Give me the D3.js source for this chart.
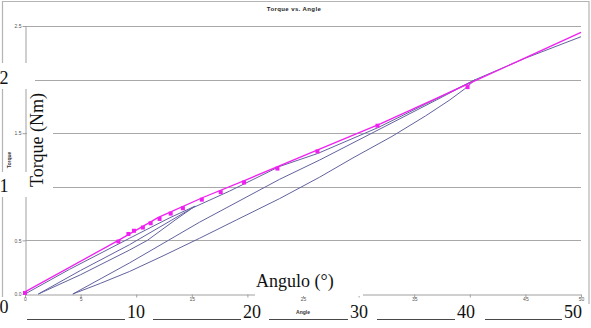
<!DOCTYPE html>
<html>
<head>
<meta charset="utf-8">
<script src="https://cdn.jsdelivr.net/npm/d3@7"></script>
<style>
  body { margin: 0; background: #fff; }
  svg { display: block; }
</style>
</head>
<body>
<div id="chart"></div>
<script>
// DATA
const xTicks = [0, 5, 10, 15, 20, 25, 30, 35, 40, 45, 50];
const hiddenXTicks = [10, 20, 30, 40]; // covered by the big labels
const yTicks = [0, 0.5, 1, 1.5, 2, 2.5];
const bigXLabels = ["10", "20", "30", "40", "50"];
const bigYLabels = ["0", "1", "2"];

// measured points (magenta markers)
const markerAngle = [0, 8.4, 9.3, 9.8, 10.6, 11.3, 12.1, 13.1, 14.2, 15.9, 17.6, 19.7, 22.7, 26.3, 31.7, 39.8];
const markerTorque = [0.01, 0.49, 0.56, 0.59, 0.62, 0.66, 0.70, 0.75, 0.80, 0.88, 0.95, 1.04, 1.17, 1.33, 1.57, 1.93];

// magenta curve
const fitAngle = [0, 8.4, 12, 16, 20, 26, 32, 40.5, 50];
const fitTorque = [0.02, 0.50, 0.715, 0.90, 1.07, 1.33, 1.59, 1.99, 2.44];

// loading / unloading cycles (blue)
const load1Angle = [0, 4, 9.4, 13, 15.3];
const load1Torque = [0, 0.23, 0.52, 0.71, 0.82];
const unload1Angle = [15.3, 13.5, 11, 9.4, 5, 1.2];
const unload1Torque = [0.82, 0.69, 0.50, 0.41, 0.18, 0];
const load2Angle = [1.2, 5, 9.4, 13.2, 15, 18.4, 22.9, 26.3, 31.7, 36, 40.5];
const load2Torque = [0, 0.22, 0.46, 0.69, 0.80, 0.96, 1.19, 1.31, 1.55, 1.77, 2.0];
const unload2Angle = [40.5, 39.5, 38.2, 36, 33, 29.5, 26.5, 22.9, 19, 15.7, 12.5, 9.4, 6.8, 4.3];
const unload2Torque = [2.0, 1.91, 1.81, 1.66, 1.47, 1.27, 1.09, 0.89, 0.69, 0.52, 0.36, 0.21, 0.10, 0];
const load3Angle = [4.3, 9.4, 15.7, 22.9, 26.5, 37, 40.5, 45, 50];
const load3Torque = [0, 0.29, 0.67, 1.07, 1.25, 1.81, 2.0, 2.2, 2.40];

const width = 591;
const height = 328;
const blue = "#62629f";
const magenta = "#f020f0";

const svg = d3.select("#chart")
  .append("svg")
  .attr("width", width)
  .attr("height", height);

const xScale = d3.scaleLinear().domain([0, 50]).range([25, 581]);
const yScale = d3.scaleLinear().domain([0, 2.5]).range([294, 26]);

// outer frame
svg.append("path")
  .attr("d", "M2.5,328 V1.5 H589 V328")
  .attr("fill", "none")
  .attr("stroke", "#b4b4b4")
  .attr("stroke-width", 1.2);

// GRIDLINES
svg.append("g")
  .selectAll("line")
  .data(yTicks.filter(d => d > 0))
  .enter()
  .append("line")
  .attr("x1", xScale(0))
  .attr("x2", xScale(50))
  .attr("y1", d => Math.round(yScale(d)) + 0.5)
  .attr("y2", d => Math.round(yScale(d)) + 0.5)
  .attr("stroke", "#a8a8a8")
  .attr("stroke-width", 1);

// AXES
const xAxis = svg.append("g")
  .attr("transform", "translate(0," + (Math.round(yScale(0)) + 0.5) + ")")
  .call(d3.axisBottom(xScale)
    .tickValues(xTicks)
    .tickFormat(d => hiddenXTicks.includes(d) ? "" : d)
    .tickSize(3).tickSizeOuter(0).tickPadding(0));

const yAxis = svg.append("g")
  .attr("transform", "translate(" + (xScale(0) + 0.5) + ",0)")
  .call(d3.axisLeft(yScale).tickValues(yTicks).tickSize(3).tickSizeOuter(0).tickPadding(1));

[xAxis, yAxis].forEach(ax => {
  ax.selectAll("path, line").attr("stroke", "#a0a0a0");
  ax.selectAll("text")
    .attr("fill", "#555")
    .style("font-family", "Liberation Sans, Arial, sans-serif")
    .style("font-size", "5px");
});

// SMALL TITLES
svg.append("text")
  .attr("x", 294).attr("y", 11)
  .attr("text-anchor", "middle")
  .style("font-family", "Liberation Sans, Arial, sans-serif")
  .style("font-size", "6px")
  .style("font-weight", "bold")
  .style("letter-spacing", "0.4px")
  .attr("fill", "#222")
  .text("Torque vs. Angle");

svg.append("text")
  .attr("x", 303).attr("y", 314)
  .attr("text-anchor", "middle")
  .style("font-family", "Liberation Sans, Arial, sans-serif")
  .style("font-size", "5px")
  .style("font-weight", "bold")
  .attr("fill", "#333")
  .text("Angle");

svg.append("text")
  .attr("transform", "translate(11,160) rotate(-90)")
  .attr("text-anchor", "middle")
  .style("font-family", "Liberation Sans, Arial, sans-serif")
  .style("font-size", "5px")
  .style("font-weight", "bold")
  .attr("fill", "#333")
  .text("Torque");

// SERIES
const toPoints = (xs, ys) => xs.map((a, i) => ({ angle: a, torque: ys[i] }));

const line = d3.line()
  .x(d => xScale(d.angle))
  .y(d => yScale(d.torque));

const blueSeries = [
  toPoints(load1Angle, load1Torque),
  toPoints(unload1Angle, unload1Torque),
  toPoints(load2Angle, load2Torque),
  toPoints(unload2Angle, unload2Torque),
  toPoints(load3Angle, load3Torque)
];

blueSeries.forEach(s => {
  svg.append("path")
    .datum(s)
    .attr("fill", "none")
    .attr("stroke", blue)
    .attr("stroke-width", 1)
    .attr("d", line);
});

svg.append("path")
  .datum(toPoints(fitAngle, fitTorque))
  .attr("fill", "none")
  .attr("stroke", magenta)
  .attr("stroke-width", 1.3)
  .attr("d", line);

svg.append("g")
  .selectAll("rect")
  .data(toPoints(markerAngle, markerTorque))
  .enter()
  .append("rect")
  .attr("x", d => xScale(d.angle) - 2)
  .attr("y", d => yScale(d.torque) - 2)
  .attr("width", 4)
  .attr("height", 4)
  .attr("fill", magenta);

// BIG OVERLAY LABELS
const serif = "Liberation Serif, Times New Roman, serif";

const whiteBox = (x, y, w, h) => {
  svg.append("rect")
    .attr("x", x).attr("y", y)
    .attr("width", w).attr("height", h)
    .attr("fill", "#fff");
};

const bigText = (txt, x, y, anchor) => {
  return svg.append("text")
    .attr("x", x).attr("y", y)
    .attr("text-anchor", anchor || "start")
    .style("font-family", serif)
    .style("font-size", "18px")
    .attr("fill", "#111")
    .text(txt);
};

// y labels 0, 1, 2
whiteBox(0, 63, 35, 26);
whiteBox(0, 172, 27, 25);
whiteBox(0, 297, 20, 31);
const bigYPos = [313, 192, 84];
bigYLabels.forEach((lbl, i) => bigText(lbl, -0.5, bigYPos[i]));

// rotated axis title
whiteBox(27, 89, 26, 102);
svg.append("text")
  .attr("transform", "translate(43,140) rotate(-90)")
  .attr("text-anchor", "middle")
  .style("font-family", serif)
  .style("font-size", "18px")
  .attr("fill", "#111")
  .text("Torque (Nm)");

// x title
whiteBox(255, 266, 108, 30);
bigText("Angulo (°)", 256, 287);

// bottom labels with rules
const bigXStart = [127, 243, 350, 457, 564];
const ruleFrom = [27, 153, 269, 377, 485];
bigXLabels.forEach((lbl, i) => {
  whiteBox(bigXStart[i] - 2, 304, i === 4 ? 30 : 23, 24);
  svg.append("line")
    .attr("x1", ruleFrom[i]).attr("x2", bigXStart[i] - 2)
    .attr("y1", 319.5).attr("y2", 319.5)
    .attr("stroke", "#333")
    .attr("stroke-width", 0.9);
  bigText(lbl, bigXStart[i], 317.5);
});
</script>
</body>
</html>
